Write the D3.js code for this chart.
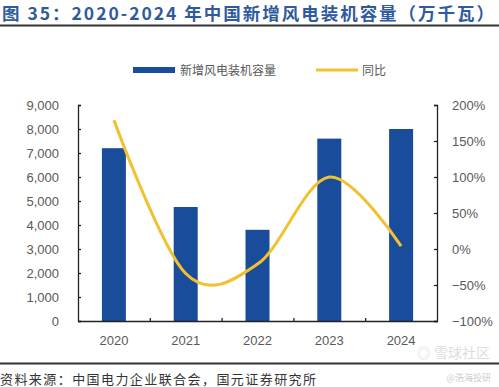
<!DOCTYPE html>
<html>
<head>
<meta charset="utf-8">
<script src="https://cdn.jsdelivr.net/npm/d3@7"></script>
<style>
  body { margin: 0; background: #fff; }
  svg { display: block; font-family: "Liberation Sans", Arial, sans-serif; }
  .cjk { font-family: "Noto Sans CJK SC", sans-serif; }
</style>
</head>
<body>
<svg id="chart" width="499" height="387"></svg>
<script>
// data
var years = ["2020", "2021", "2022", "2023", "2024"];
var capacity = [7200, 4750, 3800, 7600, 8000];   // 万千瓦
var yoy = [1.79, -0.34, -0.21, 1.00, 0.04];        // 同比
var leftTicks = [0, 1000, 2000, 3000, 4000, 5000, 6000, 7000, 8000, 9000];
var rightTicks = [-1, -0.5, 0, 0.5, 1, 1.5, 2];

var colorBar = "#1a4c9c";
var colorLine = "#f2c12e";
var colorText = "#595959";

const svg = d3.select('svg#chart');

// title
svg.append('text')
  .attr('class', 'cjk')
  .attr('x', 2).attr('y', 20)
  .attr('font-size', 17.5).attr('font-weight', 'bold')
  .attr('fill', '#2f5a9e')
  .attr('textLength', 492).attr('lengthAdjust', 'spacing')
  .text('图 35：2020-2024 年中国新增风电装机容量（万千瓦）');
svg.append('line')
  .attr('x1', 0).attr('x2', 499).attr('y1', 25.5).attr('y2', 25.5)
  .attr('stroke', '#333').attr('stroke-width', 2);

// plot area
const plotLeft = 78, plotRight = 437, plotTop = 105, plotBottom = 321;

const xc = d3.scalePoint().domain(years).range([plotLeft, plotRight]).padding(0.5);
const y = d3.scaleLinear().domain([0, 9000]).range([plotBottom, plotTop]);
const y2 = d3.scaleLinear().domain([-1, 2]).range([plotBottom, plotTop]);

// bars
svg.append('g').selectAll('rect')
  .data(years)
  .enter().append('rect')
  .attr('x', d => xc(d) - 12)
  .attr('width', 24)
  .attr('y', (d, i) => y(capacity[i]))
  .attr('height', (d, i) => plotBottom - y(capacity[i]))
  .attr('fill', colorBar);

// smoothed yoy line
const line = d3.line()
  .x((d, i) => xc(years[i]))
  .y(d => y2(d))
  .curve(d3.curveCardinal.tension(0));
svg.append('path')
  .datum(yoy)
  .attr('d', line)
  .attr('fill', 'none')
  .attr('stroke', colorLine)
  .attr('stroke-width', 3);

// left axis
const gl = svg.append('g').attr('transform', `translate(${plotLeft},0)`)
  .call(d3.axisLeft(y).tickValues(leftTicks).tickSizeInner(-3).tickSizeOuter(-3)
    .tickFormat(d3.format(',')).tickPadding(19));
// right axis
const gr = svg.append('g').attr('transform', `translate(${plotRight},0)`)
  .call(d3.axisRight(y2).tickValues(rightTicks).tickSizeInner(-3).tickSizeOuter(-3)
    .tickFormat(d3.format('.0%')).tickPadding(15));
// bottom axis with ticks between categories
const xb = d3.scaleLinear().domain([0, 5]).range([plotLeft, plotRight]);
const gb = svg.append('g').attr('transform', `translate(0,${plotBottom})`)
  .call(d3.axisBottom(xb).tickValues([1, 2, 3, 4]).tickSizeInner(-3).tickSizeOuter(0).tickFormat(''));
svg.append('g').selectAll('text')
  .data(years)
  .enter().append('text')
  .attr('x', d => xc(d))
  .attr('y', 345)
  .attr('text-anchor', 'middle')
  .attr('font-size', 13)
  .attr('fill', colorText)
  .text(d => d);

[gl, gr, gb].forEach(g => {
  g.select('.domain').attr('stroke', '#222').attr('stroke-width', 1.3);
  g.selectAll('.tick line').attr('stroke', '#222').attr('stroke-width', 1.3);
  g.selectAll('.tick text').attr('font-size', 13).attr('fill', colorText)
    .attr('font-family', '"Liberation Sans", Arial, sans-serif');
});

// legend
svg.append('rect').attr('x', 133).attr('y', 67).attr('width', 42).attr('height', 6).attr('fill', colorBar);
svg.append('text').attr('class', 'cjk').attr('x', 180).attr('y', 74.5)
  .attr('font-size', 12).attr('fill', colorText).text('新增风电装机容量');
svg.append('line').attr('x1', 316).attr('x2', 358).attr('y1', 70).attr('y2', 70)
  .attr('stroke', colorLine).attr('stroke-width', 3);
svg.append('text').attr('class', 'cjk').attr('x', 362).attr('y', 74.5)
  .attr('font-size', 12).attr('fill', colorText).text('同比');

// footer
svg.append('line')
  .attr('x1', 0).attr('x2', 499).attr('y1', 363.5).attr('y2', 363.5)
  .attr('stroke', '#333').attr('stroke-width', 2);
svg.append('text').attr('class', 'cjk').attr('x', 0).attr('y', 384)
  .attr('font-size', 13).attr('fill', '#333')
  .attr('textLength', 316).attr('lengthAdjust', 'spacing')
  .text('资料来源：中国电力企业联合会，国元证券研究所');

// watermarks
svg.append('text').attr('class', 'cjk').attr('x', 490).attr('y', 358)
  .attr('text-anchor', 'end').attr('font-size', 14).attr('fill', '#ddd').text('◎ 雪球社区');
svg.append('text').attr('class', 'cjk').attr('x', 491).attr('y', 381)
  .attr('text-anchor', 'end').attr('font-size', 9).attr('fill', '#ccc').text('@浩海投研');
</script>
</body>
</html>
